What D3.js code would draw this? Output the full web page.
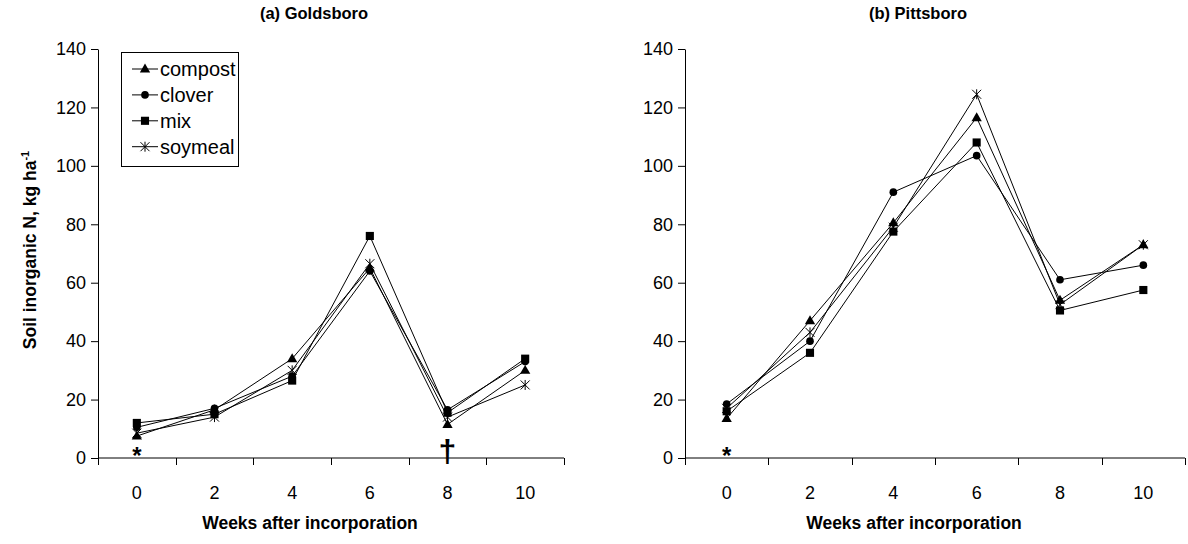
<!DOCTYPE html>
<html>
<head>
<meta charset="utf-8">
<script src="https://cdn.jsdelivr.net/npm/d3@7"></script>
<style>
  html, body { margin: 0; padding: 0; background: #fff; }
  svg { display: block; font-family: "Liberation Sans", Arial, sans-serif; }
</style>
</head>
<body>
<svg id="chart" width="1188" height="544"></svg>
<script>
// ---- data ----
const weeks = [0, 2, 4, 6, 8, 10];
const yTicks = [0, 20, 40, 60, 80, 100, 120, 140];
const seriesNames = ["compost", "clover", "mix", "soymeal"];

const goldsboroCompost = [7.5, 16.5, 34, 65, 11.5, 30];
const goldsboroClover  = [10.5, 17, 28, 64, 16.5, 33];
const goldsboroMix     = [12, 15, 26.5, 76, 15.5, 34];
const goldsboroSoymeal = [8.5, 14, 30, 66.5, 14, 25];

const pittsboroCompost = [13.5, 47, 80.5, 116.5, 54, 73];
const pittsboroClover  = [18.5, 40, 91, 103.5, 61, 66];
const pittsboroMix     = [16, 36, 77.5, 108, 50.5, 57.5];
const pittsboroSoymeal = [17, 43, 79, 124.5, 52.5, 73];

const panels = [
  { title: "(a) Goldsboro", x0: 98, x1: 564,
    series: [goldsboroCompost, goldsboroClover, goldsboroMix, goldsboroSoymeal],
    notes: [{ week: 0, text: "*" }, { week: 8, text: "†" }] },
  { title: "(b) Pittsboro", x0: 685, x1: 1185,
    series: [pittsboroCompost, pittsboroClover, pittsboroMix, pittsboroSoymeal],
    notes: [{ week: 0, text: "*" }] }
];

const svg = d3.select("#chart");
const yTop = 49, yBottom = 458;
const y = d3.scaleLinear().domain([0, 140]).range([yBottom, yTop]);

function drawMarker(g, kind, cx, cy) {
  if (kind === 3) {
    const r = 4.5;
    const p = d3.path();
    p.moveTo(cx - r, cy - r); p.lineTo(cx + r, cy + r);
    p.moveTo(cx - r, cy + r); p.lineTo(cx + r, cy - r);
    p.moveTo(cx, cy - r - 0.5); p.lineTo(cx, cy + r + 0.5);
    g.append("path").attr("d", p.toString()).attr("stroke", "#000")
      .attr("stroke-width", 1).attr("fill", "none");
    return;
  }
  const types = [d3.symbolTriangle, d3.symbolCircle, d3.symbolSquare];
  const sizes = [46, 46, 66];
  g.append("path")
    .attr("d", d3.symbol().type(types[kind]).size(sizes[kind])())
    .attr("transform", `translate(${cx},${cy + (kind === 0 ? 0.5 : 0)})`)
    .attr("fill", "#000");
}

panels.forEach(pn => {
  const g = svg.append("g");
  const x = d3.scaleBand().domain(weeks).range([pn.x0, pn.x1]);
  const cx = w => x(w) + x.bandwidth() / 2;

  // y axis
  const yAxis = d3.axisLeft(y).tickValues(yTicks).tickSize(7).tickPadding(5).tickSizeOuter(0);
  const ya = g.append("g").attr("transform", `translate(${pn.x0},0)`).call(yAxis);
  ya.select(".domain").attr("stroke", "#000");
  ya.selectAll(".tick line").attr("stroke", "#000");
  ya.selectAll(".tick text").attr("font-size", 18).attr("font-family", "Liberation Sans, Arial, sans-serif").attr("fill", "#000");

  // x axis: ticks at band boundaries, labels at centers
  g.append("line").attr("x1", pn.x0).attr("x2", pn.x1).attr("y1", yBottom).attr("y2", yBottom)
    .attr("stroke", "#000");
  const bounds = weeks.map(w => x(w)).concat([pn.x1]);
  g.selectAll(".xt").data(bounds).join("line")
    .attr("x1", d => Math.round(d) + 0.5).attr("x2", d => Math.round(d) + 0.5)
    .attr("y1", yBottom).attr("y2", yBottom + 7).attr("stroke", "#000");
  g.selectAll(".xl").data(weeks).join("text")
    .attr("x", d => cx(d)).attr("y", 499)
    .attr("text-anchor", "middle").attr("font-size", 18).text(d => d);

  // titles
  const mid = (pn.x0 + pn.x1) / 2 - 17;
  g.append("text").attr("x", mid).attr("y", 19).attr("text-anchor", "middle")
    .attr("font-size", 16.5).attr("font-weight", "bold").text(pn.title);
  g.append("text").attr("x", mid - 4).attr("y", 529).attr("text-anchor", "middle")
    .attr("font-size", 17.5).attr("font-weight", "bold").text("Weeks after incorporation");

  // lines
  const line = d3.line().x((d, i) => cx(weeks[i])).y(d => y(d));
  pn.series.forEach(s => {
    g.append("path").attr("d", line(s)).attr("fill", "none")
      .attr("stroke", "#000").attr("stroke-width", 1);
  });
  pn.series.forEach((s, k) => {
    s.forEach((v, i) => drawMarker(g, k, cx(weeks[i]), y(v)));
  });

  // annotations
  pn.notes.forEach(n => {
    if (n.text === "*") {
      g.append("text").attr("x", cx(n.week)).attr("y", 464).attr("text-anchor", "middle")
        .attr("font-size", 24).attr("font-weight", "bold").attr("fill", "#000").text("*");
    } else {
      g.append("text").attr("x", cx(n.week)).attr("y", 462).attr("text-anchor", "middle")
        .attr("font-size", 32).attr("font-weight", "bold").attr("fill", "#000").text(n.text);
    }
  });
});

// y-axis label
svg.append("text")
  .attr("transform", "translate(36,250) rotate(-90)")
  .attr("text-anchor", "middle").attr("font-size", 17.5).attr("font-weight", "bold")
  .call(t => {
    t.append("tspan").text("Soil inorganic N, kg ha");
    t.append("tspan").attr("dy", -7).attr("font-size", 11).text("-1");
  });

// legend
const lg = svg.append("g");
lg.append("rect").attr("x", 121.5).attr("y", 52.5).attr("width", 117).attr("height", 114)
  .attr("fill", "#fff").attr("stroke", "#000").attr("stroke-width", 1);
seriesNames.forEach((name, k) => {
  const yy = 69 + k * 25.9;
  lg.append("line").attr("x1", 132).attr("x2", 158).attr("y1", yy).attr("y2", yy)
    .attr("stroke", "#000");
  drawMarker(lg, k, 145, yy);
  lg.append("text").attr("x", 160).attr("y", yy + 7).attr("font-size", 20).text(name);
});
</script>
</body>
</html>
